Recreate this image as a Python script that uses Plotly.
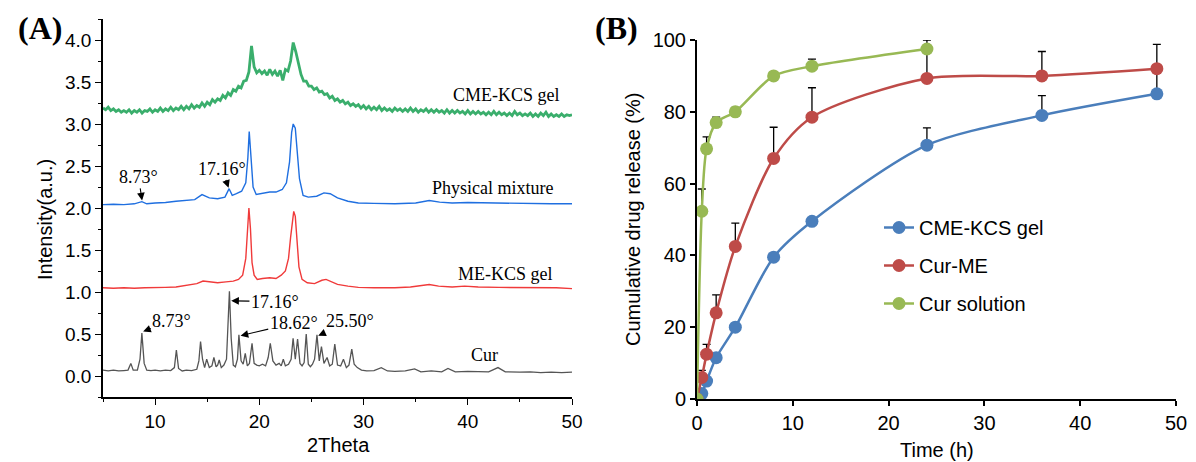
import plotly.graph_objects as go

# ---------------- Panel A data (XRD, stacked offsets as drawn) ----------------
cur_x = [5, 5.5, 6, 6.5, 7, 7.4, 7.67, 7.9, 8.3, 8.55, 8.73, 8.95, 9.2, 9.6, 10, 10.5, 11, 11.5,
         11.85, 12.04, 12.25, 12.6, 13, 13.5, 14.0, 14.2, 14.36, 14.55, 14.75, 14.95, 15.2, 15.45,
         15.64, 15.85, 16.0, 16.15, 16.35, 16.6, 16.85, 17.0, 17.13, 17.3, 17.5, 17.7, 17.9, 18.04,
         18.25, 18.45, 18.65, 18.85, 19.05, 19.3, 19.5, 19.75, 20.0, 20.3, 20.6, 20.85, 21.05, 21.3,
         21.6, 21.9, 22.1, 22.3, 22.5, 22.8, 23.05, 23.24, 23.45, 23.67, 23.9, 24.1, 24.3, 24.5,
         24.7, 24.9, 25.1, 25.3, 25.53, 25.75, 25.96, 26.2, 26.5, 26.75, 27.0, 27.24, 27.5, 27.8,
         28.07, 28.35, 28.6, 28.87, 29.1, 29.4, 29.8, 30.3, 31, 31.7, 32.3, 33, 34, 34.9, 35.5,
         36.5, 37.5, 38.1, 38.8, 40, 41, 42, 42.9, 43.6, 45, 46, 47, 48, 49, 50]
cur_y = [0.07, 0.06, 0.07, 0.06, 0.065, 0.07, 0.15, 0.07, 0.07, 0.2, 0.51, 0.15, 0.07, 0.065, 0.07,
         0.06, 0.07, 0.065, 0.1, 0.31, 0.09, 0.06, 0.07, 0.065, 0.08, 0.18, 0.41, 0.2, 0.1, 0.2,
         0.1, 0.12, 0.22, 0.11, 0.13, 0.19, 0.1, 0.13, 0.2, 0.6, 1.01, 0.45, 0.13, 0.11, 0.2, 0.49,
         0.18, 0.14, 0.27, 0.12, 0.15, 0.39, 0.15, 0.13, 0.12, 0.14, 0.12, 0.22, 0.39, 0.18, 0.13,
         0.15, 0.12, 0.2, 0.12, 0.14, 0.2, 0.45, 0.2, 0.44, 0.15, 0.12, 0.16, 0.5, 0.14, 0.11, 0.14,
         0.2, 0.49, 0.18, 0.35, 0.15, 0.22, 0.12, 0.14, 0.38, 0.13, 0.12, 0.2, 0.1, 0.13, 0.32, 0.14,
         0.1, 0.07, 0.06, 0.065, 0.1, 0.06, 0.055, 0.06, 0.085, 0.05, 0.06, 0.05, 0.09, 0.05, 0.055,
         0.05, 0.05, 0.1, 0.05, 0.045, 0.05, 0.04, 0.045, 0.04, 0.045]

me_x = [5, 6, 7, 8, 9, 10, 11, 12, 13, 14, 14.6, 15.2, 16, 16.8, 17.5, 18.0, 18.4, 18.7, 18.85,
        19.0, 19.15, 19.3, 19.5, 19.8, 20.3, 21, 21.6, 22.1, 22.5, 22.8, 23.0, 23.2, 23.3, 23.45,
        23.6, 23.8, 24.1, 24.6, 25.3, 26.0, 26.4, 27.0, 27.5, 28.5, 29.5, 31, 33, 34.5, 35.5, 36.3,
        37.2, 38.5, 39.7, 41, 43, 45, 47, 48.5, 50]
me_y = [1.05, 1.045, 1.05, 1.045, 1.05, 1.05, 1.055, 1.06, 1.08, 1.1, 1.13, 1.12, 1.11, 1.12,
        1.13, 1.15, 1.2, 1.4, 1.75, 2.0, 1.75, 1.35, 1.2, 1.15, 1.16, 1.17, 1.16, 1.2, 1.25, 1.4,
        1.65, 1.9, 1.96, 1.9, 1.6, 1.3, 1.15, 1.11, 1.1, 1.14, 1.15, 1.12, 1.09, 1.07, 1.055, 1.05,
        1.05, 1.06, 1.08, 1.09, 1.07, 1.06, 1.07, 1.06, 1.055, 1.055, 1.05, 1.05, 1.04]

pm_x = [5, 6, 7, 8, 8.73, 9.2, 10, 11, 12, 13, 13.8, 14.5, 15.2, 16, 16.7, 17.1, 17.4, 17.8, 18.3,
        18.7, 18.9, 19.03, 19.2, 19.4, 19.7, 20.2, 21, 21.6, 22.2, 22.6, 22.9, 23.1, 23.25, 23.45,
        23.6, 23.85, 24.2, 24.7, 25.5, 26.2, 26.8, 27.5, 28.5, 29.5, 31, 33, 35, 36.3, 37.3, 38.5,
        40, 42, 44, 46, 48, 50]
pm_y = [2.04, 2.045, 2.04, 2.05, 2.075, 2.05, 2.06, 2.065, 2.08, 2.09, 2.1, 2.16, 2.12, 2.11,
        2.13, 2.23, 2.15, 2.17, 2.2, 2.3, 2.6, 2.91, 2.6, 2.25, 2.16, 2.17, 2.19, 2.19, 2.22, 2.3,
        2.55, 2.9, 3.0, 2.95, 2.7, 2.35, 2.15, 2.13, 2.14, 2.18, 2.17, 2.12, 2.08, 2.06, 2.055, 2.05,
        2.06, 2.09, 2.07, 2.06, 2.065, 2.06, 2.055, 2.055, 2.05, 2.05]

gel_start = 5.0
gel_step = 0.25
gel_y = [3.19, 3.17, 3.20, 3.16, 3.18, 3.15, 3.17, 3.14, 3.16, 3.14, 3.17, 3.13,
         3.16, 3.14, 3.17, 3.13, 3.16, 3.15, 3.18, 3.14, 3.17, 3.15, 3.19, 3.15,
         3.18, 3.16, 3.20, 3.16, 3.19, 3.17, 3.21, 3.17, 3.21, 3.18, 3.23, 3.19,
         3.22, 3.20, 3.25, 3.21, 3.26, 3.23, 3.29, 3.26, 3.30, 3.28, 3.34, 3.31,
         3.37, 3.34, 3.41, 3.39, 3.45, 3.43, 3.51, 3.52, 3.62, 3.93, 3.68, 3.61,
         3.64, 3.60, 3.63, 3.58, 3.65, 3.59, 3.63, 3.57, 3.64, 3.52, 3.65, 3.63,
         3.75, 3.97, 3.86, 3.72, 3.59, 3.51, 3.51, 3.45, 3.45, 3.41, 3.43, 3.38,
         3.39, 3.35, 3.36, 3.31, 3.33, 3.28, 3.30, 3.26, 3.28, 3.24, 3.26, 3.22,
         3.24, 3.21, 3.23, 3.19, 3.22, 3.18, 3.21, 3.17, 3.20, 3.17, 3.21, 3.16,
         3.19, 3.16, 3.18, 3.15, 3.19, 3.16, 3.18, 3.15, 3.18, 3.15, 3.19, 3.15,
         3.18, 3.14, 3.17, 3.15, 3.18, 3.14, 3.17, 3.14, 3.17, 3.14, 3.16, 3.13,
         3.17, 3.13, 3.16, 3.13, 3.16, 3.13, 3.15, 3.12, 3.16, 3.12, 3.15, 3.12,
         3.15, 3.12, 3.14, 3.11, 3.14, 3.11, 3.15, 3.11, 3.14, 3.11, 3.13, 3.10,
         3.13, 3.10, 3.15, 3.11, 3.13, 3.10, 3.12, 3.10, 3.13, 3.09, 3.12, 3.09,
         3.13, 3.10, 3.14, 3.09, 3.12, 3.09, 3.11, 3.09, 3.12, 3.09, 3.11, 3.10,
         3.11]
gel_x = [gel_start + i * gel_step for i in range(len(gel_y))]

# ---------------- Panel B data (release) ----------------
time_h = [0, 0.5, 1, 2, 4, 8, 12, 24, 36, 48]
cme_gel = [0, 1.5, 5, 11.5, 20, 39.5, 49.5, 70.7, 79, 85]
cme_gel_err = [0, 0, 0, 0, 0, 0, 0, 4.8, 5.5, 6]
cur_me = [0, 6, 12.5, 24, 42.5, 67, 78.5, 89.3, 90, 92]
cur_me_err = [0, 2, 2.7, 5, 6.5, 8.7, 8.2, 8, 6.8, 6.8]
time_sol = [0, 0.5, 1, 2, 4, 8, 12, 24]
cur_sol = [0, 52.3, 69.7, 77, 80, 90, 92.7, 97.5]
cur_sol_err = [0, 6.2, 3.3, 1.5, 1.2, 1, 2, 2.5]

# page body has an 8px default margin: figure is sized/placed to compensate
W, H, OFF = 1188, 454, 8


def px_x(p):
    return (p - OFF) / W


def px_y(p):
    return 1 - (p - OFF) / H


fig = go.Figure()

# Panel A traces
fig.add_trace(go.Scatter(x=cur_x, y=cur_y, mode="lines", line=dict(color="#555555", width=1.3),
                         xaxis="x", yaxis="y", showlegend=False))
fig.add_trace(go.Scatter(x=me_x, y=me_y, mode="lines", line=dict(color="#f03a3a", width=1.4),
                         xaxis="x", yaxis="y", showlegend=False))
fig.add_trace(go.Scatter(x=pm_x, y=pm_y, mode="lines", line=dict(color="#1f6fe0", width=1.4),
                         xaxis="x", yaxis="y", showlegend=False))
fig.add_trace(go.Scatter(x=gel_x, y=gel_y, mode="lines", line=dict(color="#3aae6c", width=2.8),
                         xaxis="x", yaxis="y", showlegend=False))

# Panel B traces
series_b = [
    ("CME-KCS gel", time_h, cme_gel, cme_gel_err, "#4a7ebb"),
    ("Cur-ME", time_h, cur_me, cur_me_err, "#be4b48"),
    ("Cur solution", time_sol, cur_sol, cur_sol_err, "#98b954"),
]
for name, tx, vy, err, col in series_b:
    fig.add_trace(go.Scatter(
        x=tx, y=vy, name=name, legendgroup=name, mode="lines+markers",
        line=dict(color=col, width=2.5, shape="spline", smoothing=0.8),
        marker=dict(color=col, size=13),
        error_y=dict(type="data", symmetric=False, array=err, arrayminus=[0] * len(err),
                     color="black", thickness=1.3, width=4),
        xaxis="x2", yaxis="y2"))

axis_font = dict(family="Liberation Sans, Arial", size=19, color="black")
fig.update_layout(
    template="none",
    width=W, height=H, margin=dict(l=0, r=0, t=0, b=0, autoexpand=False),
    paper_bgcolor="white", plot_bgcolor="white",
    xaxis=dict(domain=[px_x(103), px_x(572)], range=[5, 50], tickvals=[10, 20, 30, 40, 50],
               automargin=False,
               showline=True, linecolor="black", linewidth=1.5, ticks="outside", ticklen=6,
               tickwidth=1.3, tickcolor="black", showgrid=False, zeroline=False,
               tickfont=axis_font, minor=dict(dtick=5, tick0=5, ticks="outside", ticklen=3,
                                              tickwidth=1.2, tickcolor="black", showgrid=False)),
    yaxis=dict(domain=[px_y(397), px_y(19)], range=[-0.25, 4.25], tickvals=[0, 0.5, 1, 1.5, 2, 2.5, 3, 3.5, 4],
               automargin=False,
               tickformat=".1f", showline=True, linecolor="black", linewidth=1.5, ticks="outside",
               ticklen=6, tickwidth=1.3, tickcolor="black", showgrid=False, zeroline=False,
               tickfont=axis_font, minor=dict(dtick=0.25, tick0=0, ticks="outside", ticklen=3,
                                              tickwidth=1.2, tickcolor="black", showgrid=False)),
    xaxis2=dict(domain=[px_x(697), px_x(1176)], range=[0, 50], dtick=10, anchor="y2", automargin=False,
                showline=True, linecolor="black", linewidth=2, ticks="outside", ticklen=5,
                tickwidth=1.5, tickcolor="black", showgrid=False, zeroline=False,
                tickfont=dict(family="Liberation Sans, Arial", size=20, color="black")),
    yaxis2=dict(domain=[px_y(399), px_y(40)], range=[0, 100], dtick=20, anchor="x2", automargin=False,
                showline=True, linecolor="black", linewidth=2, ticks="outside", ticklen=5,
                tickwidth=1.5, tickcolor="black", showgrid=False, zeroline=False,
                tickfont=dict(family="Liberation Sans, Arial", size=20, color="black")),
    legend=dict(x=px_x(879), y=px_y(208), xanchor="left", yanchor="top", bgcolor="rgba(0,0,0,0)",
                font=dict(family="Liberation Sans, Arial", size=20, color="black"),
                tracegroupgap=9, itemwidth=30),
)

serif = "Liberation Serif, Times New Roman"
sans20 = dict(family="Liberation Sans, Arial", size=20, color="black")
ann = []
# axis titles and panel letters (pixel positions of the reference)
for text, x, y, ang, font in [
    ("Intensity(a.u.)", 45, 220, -90, sans20),
    ("2Theta", 338, 445, 0, sans20),
    ("Cumulative drug release (%)", 633, 220, -90, sans20),
    ("Time (h)", 937, 450, 0, sans20),
    ("<b>(A)</b>", 40, 28, 0, dict(family=serif, size=32, color="black")),
    ("<b>(B)</b>", 616, 28, 0, dict(family=serif, size=32, color="black")),
]:
    ann.append(dict(text=text, x=px_x(x), y=px_y(y), xref="paper", yref="paper",
                    xanchor="center", yanchor="middle", showarrow=False, textangle=ang, font=font))

lab_font = dict(family=serif, size=18, color="black")
# series labels
ann += [
    dict(text="CME-KCS gel", x=49.0, y=3.34, xref="x", yref="y", xanchor="right", showarrow=False, font=lab_font),
    dict(text="Physical mixture", x=48.4, y=2.24, xref="x", yref="y", xanchor="right", showarrow=False, font=lab_font),
    dict(text="ME-KCS gel", x=48.4, y=1.22, xref="x", yref="y", xanchor="right", showarrow=False, font=lab_font),
    dict(text="Cur", x=41.6, y=0.25, xref="x", yref="y", showarrow=False, font=lab_font),
]
# peak callouts
arrow = dict(showarrow=True, arrowhead=2, arrowsize=1.4, arrowwidth=1.1, arrowcolor="black",
             xref="x", yref="y", axref="x", ayref="y", font=lab_font)
ann += [
    dict(text="8.73°", x=8.75, y=2.09, ax=8.4, ay=2.37, **arrow),
    dict(text="17.16°", x=17.05, y=2.24, ax=16.4, ay=2.47, **arrow),
    dict(text="8.73°", x=8.85, y=0.53, ax=11.6, ay=0.66, **arrow),
    dict(text="17.16°", x=17.3, y=0.895, ax=21.5, ay=0.885, **arrow),
    dict(text="18.62°", x=18.2, y=0.48, ax=23.3, ay=0.63, **arrow),
    dict(text="25.50°", x=25.65, y=0.48, ax=28.7, ay=0.65, **arrow),
]
fig.update_layout(annotations=ann)

fig.write_html("out.html")
